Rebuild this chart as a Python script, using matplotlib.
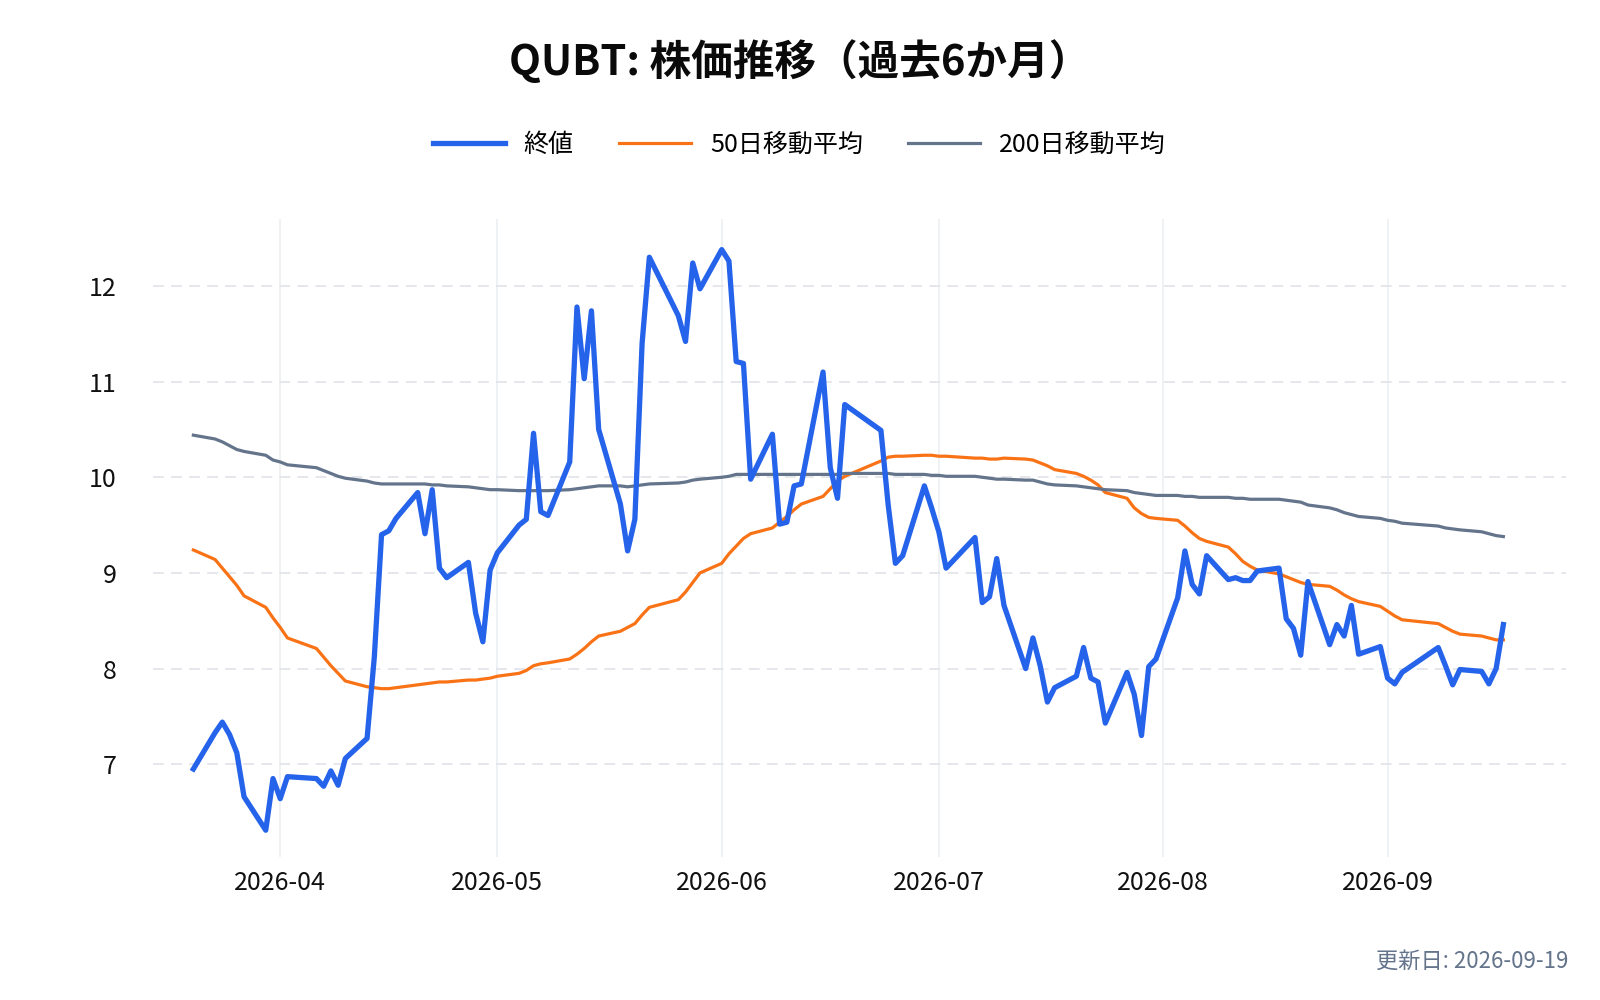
import matplotlib
matplotlib.use("Agg")
import matplotlib.pyplot as plt
import matplotlib.dates as mdates
import pandas as pd

plt.rcParams['font.family'] = ['Noto Sans CJK JP', 'DejaVu Sans']

title = "QUBT: 株価推移（過去6か月）"
labels = ["終値", "50日移動平均", "200日移動平均"]
updated = "更新日: 2026-09-19"

dates = [
    "2026-03-20", "2026-03-23", "2026-03-24", "2026-03-25", "2026-03-26", "2026-03-27",
    "2026-03-30", "2026-03-31", "2026-04-01", "2026-04-02", "2026-04-06", "2026-04-07",
    "2026-04-08", "2026-04-09", "2026-04-10", "2026-04-13", "2026-04-14", "2026-04-15",
    "2026-04-16", "2026-04-17", "2026-04-20", "2026-04-21", "2026-04-22", "2026-04-23",
    "2026-04-24", "2026-04-27", "2026-04-28", "2026-04-29", "2026-04-30", "2026-05-01",
    "2026-05-04", "2026-05-05", "2026-05-06", "2026-05-07", "2026-05-08", "2026-05-11",
    "2026-05-12", "2026-05-13", "2026-05-14", "2026-05-15", "2026-05-18", "2026-05-19",
    "2026-05-20", "2026-05-21", "2026-05-22", "2026-05-26", "2026-05-27", "2026-05-28",
    "2026-05-29", "2026-06-01", "2026-06-02", "2026-06-03", "2026-06-04", "2026-06-05",
    "2026-06-08", "2026-06-09", "2026-06-10", "2026-06-11", "2026-06-12", "2026-06-15",
    "2026-06-16", "2026-06-17", "2026-06-18", "2026-06-23", "2026-06-24", "2026-06-25",
    "2026-06-26", "2026-06-29", "2026-06-30", "2026-07-01", "2026-07-02", "2026-07-06",
    "2026-07-07", "2026-07-08", "2026-07-09", "2026-07-10", "2026-07-13", "2026-07-14",
    "2026-07-15", "2026-07-16", "2026-07-17", "2026-07-20", "2026-07-21", "2026-07-22",
    "2026-07-23", "2026-07-24", "2026-07-27", "2026-07-28", "2026-07-29", "2026-07-30",
    "2026-07-31", "2026-08-03", "2026-08-04", "2026-08-05", "2026-08-06", "2026-08-07",
    "2026-08-10", "2026-08-11", "2026-08-12", "2026-08-13", "2026-08-14", "2026-08-17",
    "2026-08-18", "2026-08-19", "2026-08-20", "2026-08-21", "2026-08-24", "2026-08-25",
    "2026-08-26", "2026-08-27", "2026-08-28", "2026-08-31", "2026-09-01", "2026-09-02",
    "2026-09-03", "2026-09-08", "2026-09-09", "2026-09-10", "2026-09-11", "2026-09-14",
    "2026-09-15", "2026-09-16", "2026-09-17",
]

close = [
    6.95, 7.33, 7.44, 7.31, 7.12, 6.66,
    6.31, 6.85, 6.64, 6.87, 6.85, 6.77,
    6.93, 6.78, 7.06, 7.27, 8.12, 9.40,
    9.44, 9.57, 9.84, 9.41, 9.87, 9.05,
    8.95, 9.11, 8.58, 8.28, 9.03, 9.21,
    9.50, 9.56, 10.46, 9.64, 9.60, 10.16,
    11.78, 11.03, 11.74, 10.50, 9.72, 9.23,
    9.56, 11.40, 12.30, 11.69, 11.42, 12.24,
    11.97, 12.38, 12.26, 11.21, 11.19, 9.98,
    10.45, 9.51, 9.53, 9.91, 9.93, 11.10,
    10.10, 9.78, 10.76, 10.49, 9.71, 9.10,
    9.18, 9.91, 9.68, 9.43, 9.05, 9.37,
    8.69, 8.75, 9.15, 8.66, 8.00, 8.32,
    8.03, 7.65, 7.80, 7.92, 8.22, 7.90,
    7.86, 7.43, 7.96, 7.73, 7.30, 8.02,
    8.10, 8.74, 9.23, 8.88, 8.78, 9.18,
    8.93, 8.95, 8.92, 8.92, 9.02, 9.05,
    8.52, 8.42, 8.14, 8.91, 8.25, 8.46,
    8.34, 8.66, 8.15, 8.23, 7.90, 7.84,
    7.96, 8.22, 8.03, 7.83, 7.99, 7.97,
    7.84, 8.00, 8.46,
]

ma50 = [
    9.24, 9.14, 9.05, 8.96, 8.87, 8.76,
    8.64, 8.53, 8.43, 8.32, 8.21, 8.12,
    8.03, 7.95, 7.87, 7.81, 7.80, 7.79,
    7.79, 7.80, 7.83, 7.84, 7.85, 7.86,
    7.86, 7.88, 7.88, 7.89, 7.90, 7.92,
    7.95, 7.98, 8.03, 8.05, 8.06, 8.10,
    8.15, 8.21, 8.28, 8.34, 8.39, 8.43,
    8.47, 8.56, 8.64, 8.72, 8.80, 8.90,
    9.00, 9.10, 9.20, 9.28, 9.36, 9.41,
    9.47, 9.53, 9.59, 9.66, 9.72, 9.80,
    9.88, 9.96, 10.01, 10.17, 10.21, 10.22,
    10.22, 10.23, 10.23, 10.22, 10.22, 10.20,
    10.20, 10.19, 10.19, 10.20, 10.19, 10.18,
    10.15, 10.12, 10.08, 10.04, 10.01, 9.97,
    9.92, 9.84, 9.78, 9.68, 9.62, 9.58,
    9.57, 9.55, 9.49, 9.42, 9.36, 9.33,
    9.27, 9.20, 9.12, 9.07, 9.03, 8.99,
    8.96, 8.93, 8.90, 8.88, 8.86, 8.82,
    8.77, 8.73, 8.70, 8.65, 8.60, 8.55,
    8.51, 8.47, 8.43, 8.39, 8.36, 8.34,
    8.32, 8.30, 8.30,
]

ma200 = [
    10.44, 10.40, 10.37, 10.33, 10.29, 10.27,
    10.23, 10.18, 10.16, 10.13, 10.10, 10.07,
    10.04, 10.01, 9.99, 9.96, 9.94, 9.93,
    9.93, 9.93, 9.93, 9.93, 9.92, 9.92,
    9.91, 9.90, 9.89, 9.88, 9.87, 9.87,
    9.86, 9.86, 9.86, 9.86, 9.86, 9.87,
    9.88, 9.89, 9.90, 9.91, 9.91, 9.90,
    9.91, 9.92, 9.93, 9.94, 9.95, 9.97,
    9.98, 10.00, 10.01, 10.03, 10.03, 10.03,
    10.03, 10.03, 10.03, 10.03, 10.03, 10.03,
    10.03, 10.03, 10.04, 10.04, 10.04, 10.03,
    10.03, 10.03, 10.02, 10.02, 10.01, 10.01,
    10.00, 9.99, 9.98, 9.98, 9.97, 9.97,
    9.95, 9.93, 9.92, 9.91, 9.90, 9.89,
    9.88, 9.87, 9.86, 9.84, 9.83, 9.82,
    9.81, 9.81, 9.80, 9.80, 9.79, 9.79,
    9.79, 9.78, 9.78, 9.77, 9.77, 9.77,
    9.76, 9.75, 9.74, 9.71, 9.68, 9.66,
    9.63, 9.61, 9.59, 9.57, 9.55, 9.54,
    9.52, 9.49, 9.47, 9.46, 9.45, 9.43,
    9.41, 9.39, 9.38,
]

y_ticks = [7, 8, 9, 10, 11, 12]

x = pd.to_datetime(dates)

fig = plt.figure(figsize=(16, 10), dpi=100)
ax = fig.add_axes([0.0956, 0.143, 0.8834, 0.638])

ax.plot(x, close, color="#2563eb", lw=3.8, label=labels[0],
        solid_joinstyle="round", zorder=3)
ax.plot(x, ma50, color="#f97316", lw=2.3, label=labels[1],
        solid_joinstyle="round", zorder=2)
ax.plot(x, ma200, color="#64748b", lw=2.3, label=labels[2],
        solid_joinstyle="round", zorder=2)

ax.set_xlim(pd.Timestamp("2026-03-14 10:00"), pd.Timestamp("2026-09-25 17:00"))
ax.set_ylim(6.03, 12.70)

ax.set_yticks(y_ticks)
ax.set_yticklabels([str(v) for v in y_ticks])
ax.xaxis.set_major_locator(mdates.MonthLocator())
ax.xaxis.set_major_formatter(mdates.DateFormatter("%Y-%m"))

for s in ax.spines.values():
    s.set_visible(False)
ax.tick_params(axis="both", length=0, labelsize=18, colors="#111111")
ax.tick_params(axis="y", pad=26)
ax.tick_params(axis="x", pad=9)

ax.grid(axis="y", color="#e3e5ea", lw=1.3, linestyle=(0, (6, 4)))
ax.grid(axis="x", color="#eef1f5", lw=1.3, linestyle="-")
ax.set_axisbelow(True)

fig.text(0.5, 0.938, title, ha="center", va="center",
         fontsize=30, fontweight="bold", color="#0a0a0a")

fig.legend(loc="center", bbox_to_anchor=(0.4995, 0.855), ncol=3, frameon=False,
           fontsize=18, handlelength=2.9, handletextpad=0.75, columnspacing=1.8)

fig.text(0.98, 0.039, updated, ha="right", va="center", fontsize=16, color="#64748b")

fig.savefig("out.png", dpi=100)
